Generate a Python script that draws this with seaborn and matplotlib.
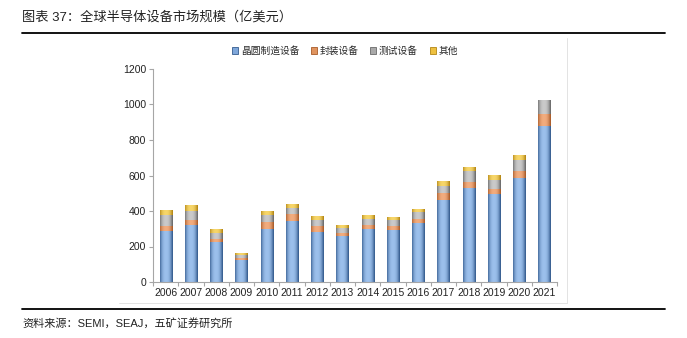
import matplotlib
matplotlib.use("Agg")
import matplotlib.pyplot as plt
import seaborn as sns
import numpy as np
import pandas as pd
from matplotlib.patches import Patch
from matplotlib.lines import Line2D
from matplotlib.colors import to_rgb

years = ["2006", "2007", "2008", "2009", "2010", "2011", "2012", "2013",
         "2014", "2015", "2016", "2017", "2018", "2019", "2020", "2021"]
wafer = [287, 319, 221, 119, 296, 341, 281, 254, 294, 289, 328, 457, 525, 492, 585, 875]
packaging = [23, 26, 21, 11, 38, 38, 29, 22, 26, 21, 26, 39, 37, 29, 39, 70]
testing = [65, 51, 31, 21, 41, 36, 35, 24, 34, 35, 40, 43, 59, 49, 59, 80]
other = [27, 34, 23, 7, 21, 21, 23, 18, 21, 19, 17, 25, 26, 28, 28, 0]
series_names = ["晶圆制造设备", "封装设备", "测试设备", "其他"]
title_text = "图表 37：全球半导体设备市场规模（亿美元）"
source_text = "资料来源：SEMI，SEAJ，五矿证券研究所"

face = ["#7FA7DA", "#E0945F", "#A9A9A9", "#EDC040"]
edge = ["#355C8F", "#A85A28", "#6A6A6A", "#B38614"]
light = ["#9CC0EC", "#F2AC7E", "#CACACA", "#F7D66A"]

sns.set_theme(style="white")
FAM = ["Liberation Sans", "Noto Sans CJK SC"]
plt.rcParams["font.family"] = FAM

df = pd.DataFrame({"year": years, "wafer": wafer, "pack": packaging,
                   "test": testing, "other": other})
df["c1"] = df["wafer"]
df["c2"] = df["c1"] + df["pack"]
df["c3"] = df["c2"] + df["test"]
df["c4"] = df["c3"] + df["other"]

fig = plt.figure(figsize=(6.87, 3.38), dpi=100)
ax = fig.add_axes([153/687, 1-282/338, (557-153)/687, (282-69)/338])

t = np.linspace(0, 1, 64)
prof = np.clip(1 - np.abs((t - 0.47) / 0.5) ** 2.5, 0, 1)

layer_cols = ["c4", "c3", "c2", "c1"]
layer_idx = [3, 2, 1, 0]
for order, (col, i) in enumerate(zip(layer_cols, layer_idx)):
    n_before = len(ax.patches)
    sns.barplot(data=df, x="year", y=col, ax=ax, color=face[i], saturation=1,
                width=0.48, linewidth=0)
    new_patches = ax.patches[n_before:]
    d = np.array(to_rgb(edge[i]))
    l = np.array(to_rgb(light[i]))
    grad = d[None, :] * (1 - prof[:, None]) + l[None, :] * prof[:, None]
    img = grad[None, :, :]
    for p in new_patches:
        x0, y0 = p.get_x(), p.get_y()
        w, h = p.get_width(), p.get_height()
        if h <= 0:
            continue
        ax.imshow(img, extent=(x0, x0 + w, y0, y0 + h), aspect="auto",
                  interpolation="bilinear", zorder=2 + order * 0.01)

ax.set_ylim(0, 1200)
ax.set_xlim(-0.5, 15.5)
ax.set_yticks(np.arange(0, 1201, 200))
ax.set_xlabel("")
ax.set_ylabel("")
for s in ["top", "right"]:
    ax.spines[s].set_visible(False)
for s in ["left", "bottom"]:
    ax.spines[s].set_color("#A6A6A6")
    ax.spines[s].set_linewidth(0.8)
    ax.spines[s].set_zorder(4)
ax.tick_params(axis="y", direction="out", length=3, width=0.8, color="#A6A6A6",
               labelsize=7.5, pad=2, left=True, labelcolor="#222222")
ax.tick_params(axis="x", length=0, labelsize=7.5, pad=4, labelcolor="#222222")
ax.set_xticks(np.arange(-0.5, 16, 1), minor=True)
ax.tick_params(axis="x", which="minor", direction="out", length=3, width=0.8,
               color="#A6A6A6", bottom=True)
ax.grid(False)

handles = [Patch(facecolor=f, edgecolor=e, linewidth=0.6) for f, e in zip(face, edge)]
fig.legend(handles, series_names, loc="center", bbox_to_anchor=(345/687, 1-51/338),
           ncol=4, frameon=False, handlelength=0.6, handleheight=0.6,
           handletextpad=0.3, columnspacing=1.2, prop={"family": FAM, "size": 7})

# page decorations
fig.text(22/687, 1-17/338, title_text, fontsize=9.5, va="center", ha="left",
         color="#222222")
fig.add_artist(Line2D([22/687, 665/687], [1-33/338, 1-33/338], color="black", lw=1.3))
fig.add_artist(Line2D([22/687, 665/687], [1-309/338, 1-309/338], color="black", lw=1.3))
fig.text(22/687, 1-323/338, source_text, fontsize=8, va="center", ha="left",
         color="#222222")
# faint chart frame
fig.add_artist(Line2D([567/687, 567/687], [1-38/338, 1-303/338], color="#E3E3E3", lw=0.7))
fig.add_artist(Line2D([119/687, 567/687], [1-303/338, 1-303/338], color="#E3E3E3", lw=0.7))

fig.savefig("out.png", dpi=100)
